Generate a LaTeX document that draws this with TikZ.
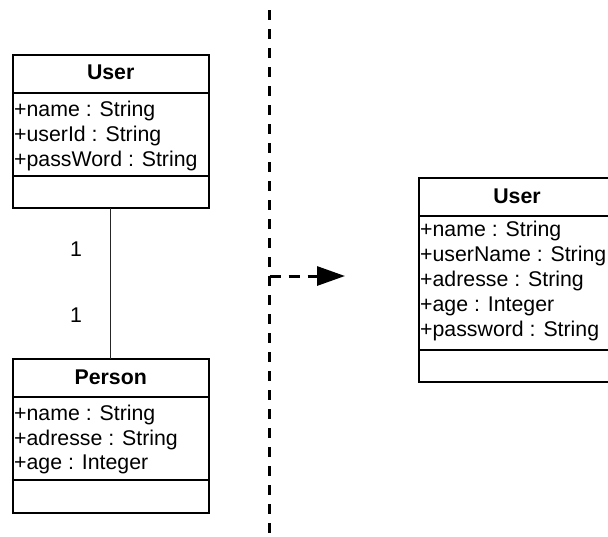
\documentclass[tikz,border=0pt]{standalone}
\usepackage{fontspec}
\setmainfont{Liberation Sans}
\usetikzlibrary{arrows.meta}
\begin{document}
\begin{tikzpicture}[x=1pt,y=-1pt,
  classbox/.style={draw=black, line width=2pt, fill=white, inner sep=0pt, outer sep=0pt, anchor=north west, minimum width=196pt},
  divider/.style={draw=black, line width=2pt},
  title/.style={font=\fontsize{21.3}{25}\selectfont\bfseries, inner sep=0pt, anchor=base},
  attr/.style={font=\fontsize{21.3}{25}\selectfont, inner sep=0pt, anchor=base west},
  mult/.style={font=\fontsize{21.3}{25}\selectfont, inner sep=0pt, anchor=base},
  assoc/.style={draw=black!85, line width=1.2pt},
  sepline/.style={draw=black, line width=3pt, dash pattern=on 10pt off 9pt},
  flow/.style={draw=black, line width=3pt, dash pattern=on 11pt off 8pt, -{Triangle[length=28pt,width=19pt]}}
]
\path[use as bounding box] (0,0) rectangle (608,536);
\clip (0,0) rectangle (608,536);

% left User class
\node[classbox, minimum height=153pt] (user) at (12.7,55) {};
\draw[divider] (12.7,92.7) -- (208.7,92.7);
\draw[divider] (12.7,176) -- (208.7,176);
\node[title] (userT) at (110.7,79.3) {User};
\node[attr] (u1) at (14,116) {+name : String};
\node[attr] (u2) at (14,141) {+userId : String};
\node[attr] (u3) at (14,166) {+passWord : String};

% Person class
\node[classbox, minimum height=153.7pt] (person) at (12.7,359) {};
\draw[divider] (12.7,397) -- (208.7,397);
\draw[divider] (12.7,480) -- (208.7,480);
\node[title] (personT) at (110.7,384) {Person};
\node[attr] (p1) at (14,420) {+name : String};
\node[attr] (p2) at (14,445) {+adresse : String};
\node[attr] (p3) at (14,469.5) {+age : Integer};

% association
\draw[assoc] (user.south) -- (person.north);
\node[mult] (m1) at (76,256.7) {1};
\node[mult] (m2) at (76,322.7) {1};

% separator
\coordinate (sepTop) at (269.5,10);
\coordinate (sepBot) at (269.5,545);
\draw[sepline] (sepTop) -- (sepBot);

% transformation arrow
\coordinate (arrStart) at (269.5,276);
\coordinate (arrEnd) at (345,276);
\draw[flow] (arrStart) -- (arrEnd);

% right User class
\node[classbox, minimum height=204pt] (user2) at (419,177.7) {};
\draw[divider] (419,215.7) -- (615,215.7);
\draw[divider] (419,350) -- (615,350);
\node[title] (user2T) at (517,203.3) {User};
\node[attr] (r1) at (420,236.7) {+name : String};
\node[attr] (r2) at (420,261.7) {+userName : String};
\node[attr] (r3) at (420,286.7) {+adresse : String};
\node[attr] (r4) at (420,311.7) {+age : Integer};
\node[attr] (r5) at (420,336.7) {+password : String};
\end{tikzpicture}
\end{document}
